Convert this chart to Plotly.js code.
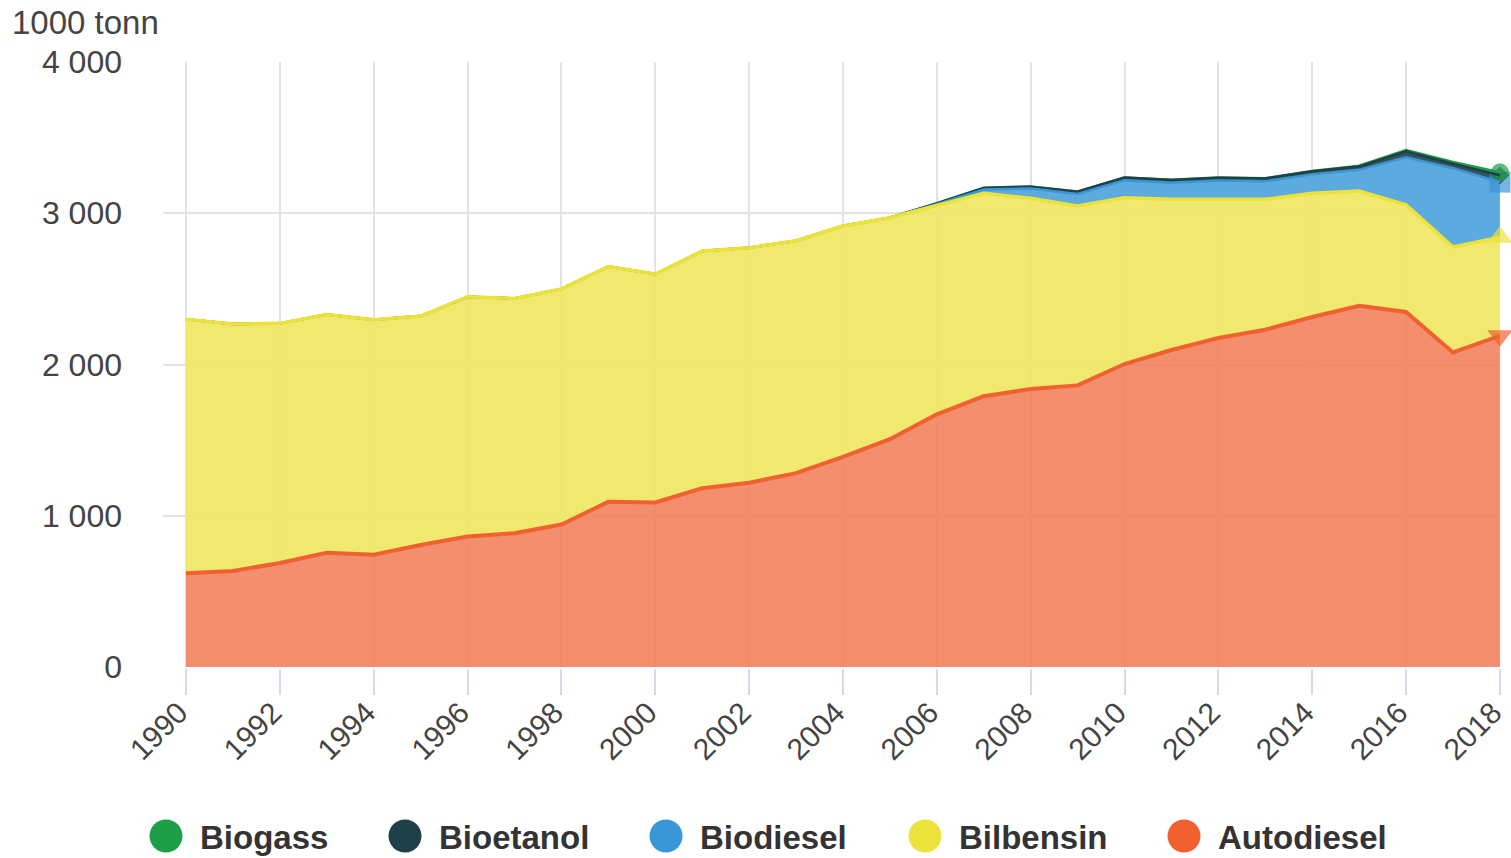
<!DOCTYPE html>
<html><head><meta charset="utf-8">
<script src="https://cdn.plot.ly/plotly-3.0.1.min.js"></script>
<style>html,body{margin:0;padding:0;background:#fff;} #chart{width:1511px;height:858px;}</style>
</head><body><div id="chart"></div>
<script>
// ---- data (1000 tonn) ----
const years = [1990,1991,1992,1993,1994,1995,1996,1997,1998,1999,2000,2001,2002,2003,2004,2005,2006,2007,2008,2009,2010,2011,2012,2013,2014,2015,2016,2017,2018];
const autodiesel = [620,635,688,755,742,807,863,885,942,1092,1088,1182,1218,1282,1389,1506,1670,1790,1838,1862,2003,2096,2175,2230,2314,2388,2347,2080,2190];
const bilbensin  = [1679,1633,1584,1575,1554,1513,1585,1552,1558,1556,1510,1568,1554,1536,1527,1464,1382,1342,1261,1186,1100,996,917,862,818,759,708,697,651];
const biodiesel  = [0,0,0,0,0,0,0,0,0,0,0,0,0,0,0,0,8,25,65,80,115,110,125,120,125,140,315,520,365];
const bioetanol  = [0,0,0,0,0,0,0,0,0,0,0,0,0,0,0,0,5,10,12,15,18,18,18,18,20,22,40,30,45];
const biogass    = [0,0,0,0,0,0,0,0,0,0,0,0,0,0,1,1,1,1,1,1,1,1,1,2,3,5,8,12,20];
const seriesNames = ["Autodiesel","Bilbensin","Biodiesel","Bioetanol","Biogass"];
const yTicks = [0,1000,2000,3000,4000];
const yTickText = ["0","1 000","2 000","3 000","4 000"];
const unitLabel = "1000 tonn";

// ---- styling ----
const W = 1511, H = 858;
const M = {l:163, r:11, t:62, b:191};
const PW = W - M.l - M.r, PH = H - M.t - M.b;
const px2x = p => (p - M.l) / PW;
const px2y = p => (H - M.b - p) / PH;

const styles = {
  Autodiesel: {line:"#f0612f", fill:"rgba(241,126,91,0.88)", symbol:"triangle-down", lw:4,   z:5, ms:22},
  Bilbensin:  {line:"#ece23c", fill:"rgba(240,230,95,0.9)",  symbol:"triangle-up",   lw:3.5, z:4, ms:22},
  Biodiesel:  {line:"#3a96d6", fill:"rgba(84,166,220,0.95)", symbol:"square",        lw:2.5, z:3, ms:21},
  Bioetanol:  {line:"#1f3f49", fill:"rgba(31,63,73,0.9)",   symbol:"diamond",       lw:2.5, z:2, ms:14},
  Biogass:    {line:"#1f9e48", fill:"rgba(31,158,72,0.9)",  symbol:"circle",        lw:2.5, z:1, ms:18}
};
const values = {Autodiesel:autodiesel, Bilbensin:bilbensin, Biodiesel:biodiesel, Bioetanol:bioetanol, Biogass:biogass};
const n = years.length;

// filled stacked areas (no lines) + end-point markers
const areaTraces = seriesNames.map(name => ({
  type:"scatter", mode:"markers", name:name, x:years, y:values[name], stackgroup:"area",
  fillcolor:styles[name].fill,
  marker:{symbol:styles[name].symbol, color:styles[name].line, size:years.map((_,i)=> i===n-1 ? styles[name].ms : 0), line:{width:0}},
  cliponaxis:false, showlegend:false, hoverinfo:"skip"
}));
// stacked outlines, layered so lower series' lines sit on top where stacks coincide
const lineTraces = seriesNames.map(name => ({
  type:"scatter", mode:"lines", name:name, x:years, y:values[name], stackgroup:"lines", fill:"none",
  line:{color:styles[name].line, width:styles[name].lw},
  showlegend:false, hoverinfo:"x+y+name", zorder:styles[name].z
}));

// ---- custom legend (large circles) ----
const legendOrder = ["Biogass","Bioetanol","Biodiesel","Bilbensin","Autodiesel"];
const legendX = [166,405,666,925,1184];
const legendY = 836;
const shapes = [];
const annotations = [];
legendOrder.forEach((name,i)=>{
  shapes.push({type:"circle", xref:"paper", yref:"paper", xsizemode:"pixel", ysizemode:"pixel",
    xanchor:px2x(legendX[i]), yanchor:px2y(legendY), x0:-16.5, x1:16.5, y0:-16.5, y1:16.5,
    fillcolor:styles[name].line, line:{width:0}});
  annotations.push({xref:"paper", yref:"paper", x:px2x(legendX[i]+32), y:px2y(legendY+1),
    xanchor:"left", yanchor:"middle", showarrow:false, text:"<b>"+name+"</b>",
    font:{family:"Liberation Sans, Arial, sans-serif", size:33, color:"#333333"}});
});
annotations.push({xref:"paper", yref:"paper", x:px2x(10), y:px2y(22), xanchor:"left", yanchor:"middle",
  showarrow:false, text:unitLabel, font:{family:"Liberation Sans, Arial, sans-serif", size:33, color:"#444444"}});

const xt = years.filter(y=>y%2===0);
const layout = {
  width:W, height:H, margin:M, paper_bgcolor:"#ffffff", plot_bgcolor:"#ffffff",
  showlegend:false,
  xaxis:{range:[1989.51,2018.002], tickmode:"array", tickvals:xt,
    ticktext:xt.map(String), tickangle:-45, ticks:"outside", ticklen:26, tickwidth:2, tickcolor:"#d3dbe8",
    ticklabeloverflow:"allow", ticklabelshift:-7, ticklabelstandoff:-12,
    showgrid:true, gridcolor:"#e3e3e3", gridwidth:2, zeroline:false, showline:true, linecolor:"#d6d6d6", linewidth:2,
    tickfont:{family:"Liberation Sans, Arial, sans-serif", size:30, color:"#444444"}, fixedrange:true},
  yaxis:{range:[0,4000], tickmode:"array", tickvals:yTicks, ticktext:yTickText, ticks:"",
    ticklabelstandoff:40,
    showgrid:true, gridcolor:"#e3e3e3", gridwidth:2, zeroline:false, showline:false,
    tickfont:{family:"Liberation Sans, Arial, sans-serif", size:32, color:"#444444"}, fixedrange:true},
  shapes:shapes, annotations:annotations
};
Plotly.newPlot("chart", areaTraces.concat(lineTraces), layout, {displayModeBar:false, staticPlot:true});
</script>
</body></html>
